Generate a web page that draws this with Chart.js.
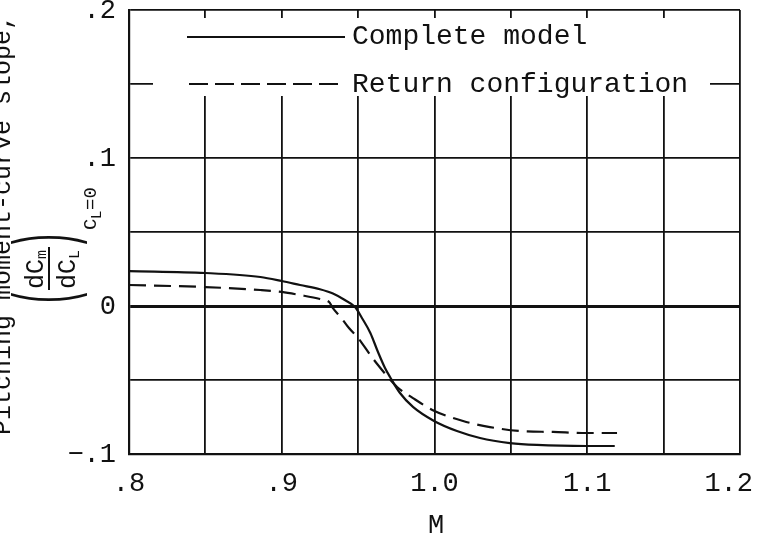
<!DOCTYPE html>
<html>
<head>
<meta charset="utf-8">
<script src="https://cdn.jsdelivr.net/npm/chart.js@4"></script>
<style>
    html, body { margin: 0; padding: 0; background: #fff; }
    #wrap { width: 757px; height: 535px; position: relative; }
</style>
</head>
<body>
<div id="wrap"><canvas id="chart"></canvas></div>
<script>
// values (Mach number vs pitching moment-curve slope)
const completeModelM = [0.800, 0.850, 0.886, 0.900, 0.912, 0.925, 0.9335, 0.941, 0.948, 0.9525, 0.958, 0.963, 0.9676, 0.9709, 0.9774, 0.9859, 0.9997, 1.0147, 1.0298, 1.0494, 1.067, 1.0998, 1.118];
const completeModelSlope = [0.0236, 0.0223, 0.0196, 0.0169, 0.0142, 0.0113, 0.0084, 0.0042, -0.0007, -0.0081, -0.0182, -0.0311, -0.0419, -0.0480, -0.0588, -0.0682, -0.0777, -0.0845, -0.0892, -0.0926, -0.0939, -0.0946, -0.0946];

const returnConfigM = [0.800, 0.850, 0.886, 0.900, 0.912, 0.925, 0.931, 0.9335, 0.939, 0.944, 0.950, 0.958, 0.963, 0.9695, 0.9755, 0.9859, 1.000, 1.0187, 1.0363, 1.056, 1.0776, 1.0998, 1.1195];
const returnConfigSlope = [0.0142, 0.0128, 0.0108, 0.0095, 0.0074, 0.0047, 0.0027, -0.0014, -0.0081, -0.0149, -0.0216, -0.0331, -0.0399, -0.0480, -0.0547, -0.0622, -0.0709, -0.0777, -0.0818, -0.0845, -0.0851, -0.0858, -0.0858];

const seriesNames = ["Complete model", "Return configuration"];

const xTickValues = [0.8, 0.9, 1.0, 1.1, 1.2];
const xTickLabels = [".8", ".9", "1.0", "1.1", "1.2"];
const yTickValues = [0.2, 0.1, 0, -0.1];
const yTickLabels = [".2", ".1", "0", "\u2212.1"];

const INK = "#111";
const FONT = "'Liberation Mono', 'Courier New', monospace";

function toPoints(xs, ys) {
    return xs.map((x, i) => ({ x: x, y: ys[i] }));
}

// legend box, tick labels and axis titles drawn by hand like the typed original
const paperPlugin = {
    id: "paper",
    beforeDatasetsDraw(chart) {
        const ctx = chart.ctx;
        const ys = chart.scales.y;
        const yRow2 = ys.getPixelForValue(0.15);

        ctx.save();
        ctx.fillStyle = "#fff";
        ctx.fillRect(153, 18, 557, 78);

        ctx.strokeStyle = INK;
        ctx.lineWidth = 2;
        ctx.beginPath();
        ctx.moveTo(187, 37);
        ctx.lineTo(345, 37);
        ctx.stroke();

        ctx.setLineDash([19, 7]);
        ctx.beginPath();
        ctx.moveTo(189, yRow2);
        ctx.lineTo(345, yRow2);
        ctx.stroke();
        ctx.setLineDash([]);

        ctx.fillStyle = INK;
        ctx.font = "28px " + FONT;
        ctx.textBaseline = "middle";
        ctx.textAlign = "left";
        ctx.fillText(seriesNames[0], 352, 37);
        ctx.fillText(seriesNames[1], 352, yRow2 + 1);
        ctx.restore();
    },
    afterDraw(chart) {
        const ctx = chart.ctx;
        const xs = chart.scales.x;
        const ys = chart.scales.y;
        ctx.save();
        ctx.fillStyle = INK;
        ctx.font = "27px " + FONT;
        ctx.textBaseline = "middle";

        ctx.textAlign = "right";
        yTickValues.forEach((v, i) => {
            ctx.fillText(yTickLabels[i], 116, ys.getPixelForValue(v) + 1);
        });

        ctx.textAlign = "center";
        xTickValues.forEach((v, i) => {
            let px = xs.getPixelForValue(v);
            const half = ctx.measureText(xTickLabels[i]).width / 2;
            px = Math.min(px, chart.width - 4 - half);
            ctx.fillText(xTickLabels[i], px, 484);
        });

        ctx.fillText("M", 436, 526);

        // rotated y title, first line (cut at the page edge)
        ctx.save();
        ctx.translate(10, 225);
        ctx.rotate(-Math.PI / 2);
        ctx.textAlign = "center";
        ctx.textBaseline = "alphabetic";
        ctx.font = "25px " + FONT;
        ctx.fillText("Pitching moment-curve slope,", 0, 0);
        ctx.restore();

        // rotated y title, (dCm/dCL) CL=0
        ctx.save();
        ctx.translate(49, 266);
        ctx.rotate(-Math.PI / 2);
        ctx.textBaseline = "alphabetic";
        ctx.textAlign = "left";

        ctx.font = "25px " + FONT;
        ctx.fillText("dC", -23, -6);
        ctx.fillText("dC", -23, 26);
        ctx.font = "15px " + FONT;
        ctx.fillText("m", 7, -3);
        ctx.fillText("L", 7, 30);

        ctx.strokeStyle = INK;
        ctx.lineWidth = 2;
        ctx.beginPath();
        ctx.moveTo(-24, 0);
        ctx.lineTo(19, 0);
        ctx.stroke();

        ctx.save();
        ctx.scale(1, 2.7);
        ctx.font = "30px " + FONT;
        ctx.textBaseline = "middle";
        ctx.textAlign = "center";
        ctx.fillText("(", -31, 0);
        ctx.fillText(")", 26, 0);
        ctx.restore();

        ctx.textBaseline = "alphabetic";
        ctx.font = "19px " + FONT;
        ctx.fillText("C", 36, 47);
        ctx.font = "14px " + FONT;
        ctx.fillText("L", 47, 52);
        ctx.font = "19px " + FONT;
        ctx.fillText("=0", 56, 47);
        ctx.restore();

        ctx.restore();
    }
};

new Chart(document.getElementById("chart").getContext("2d"), {
    type: "line",
    data: {
        datasets: [
            {
                label: seriesNames[0],
                data: toPoints(completeModelM, completeModelSlope),
                borderColor: INK,
                borderWidth: 2.2,
                pointRadius: 0,
                cubicInterpolationMode: "monotone",
                fill: false
            },
            {
                label: seriesNames[1],
                data: toPoints(returnConfigM, returnConfigSlope),
                borderColor: INK,
                borderWidth: 2.2,
                borderDash: [17, 8],
                pointRadius: 0,
                cubicInterpolationMode: "monotone",
                fill: false
            }
        ]
    },
    options: {
        responsive: true,
        maintainAspectRatio: false,
        animation: false,
        events: [],
        layout: { padding: { left: 0, right: 17, top: 10, bottom: 0 } },
        plugins: {
            legend: { display: false },
            tooltip: { enabled: false }
        },
        scales: {
            x: {
                type: "linear",
                min: 0.8,
                max: 1.2,
                ticks: { display: false, stepSize: 0.05 },
                grid: { color: INK, lineWidth: 1.8, drawTicks: false },
                border: { color: INK, width: 2.2 },
                afterFit(scale) { scale.height = 81; }
            },
            y: {
                type: "linear",
                min: -0.1,
                max: 0.2,
                ticks: { display: false, stepSize: 0.05 },
                grid: {
                    color: INK,
                    drawTicks: false,
                    lineWidth: c => (Math.abs(c.tick.value) < 1e-9 ? 3 : 1.8)
                },
                border: { color: INK, width: 2.2 },
                afterFit(scale) { scale.width = 129; }
            }
        }
    },
    plugins: [paperPlugin]
});
</script>
</body>
</html>
